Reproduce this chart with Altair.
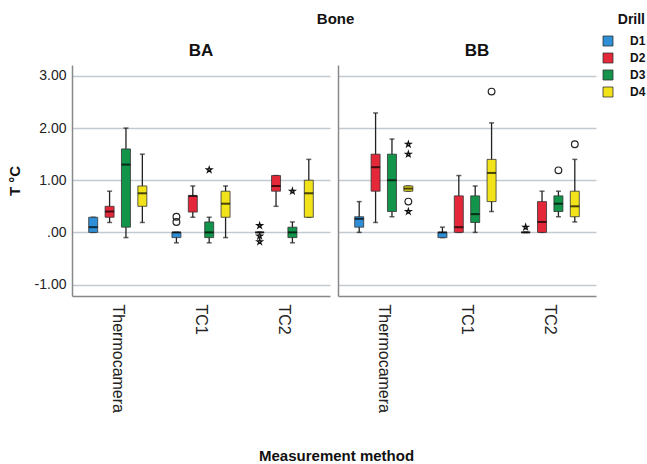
import altair as alt
import pandas as pd

methods = ["Thermocamera", "TC1", "TC2"]
drills = ["D1", "D2", "D3", "D4"]
drill_colors = ["#2e8fd6", "#e4283a", "#12944a", "#f1e21a"]

# Order of each list: Thermocamera D1..D4, TC1 D1..D4, TC2 D1..D4
ba_lo = [0.00, 0.19, -0.10, 0.19, -0.20, 0.29, -0.20, -0.10, 0.00, 0.50, -0.20, 0.29]
ba_q1 = [0.00, 0.29, 0.10, 0.50, -0.10, 0.39, -0.10, 0.29, 0.00, 0.79, -0.10, 0.29]
ba_med = [0.10, 0.40, 1.30, 0.75, 0.00, 0.70, 0.00, 0.55, 0.00, 0.89, 0.00, 0.75]
ba_q3 = [0.29, 0.50, 1.60, 0.89, 0.00, 0.70, 0.20, 0.79, 0.00, 1.09, 0.10, 1.00]
ba_hi = [0.29, 0.79, 2.00, 1.50, 0.00, 0.89, 0.29, 0.89, 0.00, 1.09, 0.20, 1.40]

bb_lo = [0.00, 0.19, 0.30, 0.79, -0.10, 0.00, 0.00, 0.40, 0.00, 0.00, 0.30, 0.20]
bb_q1 = [0.10, 0.79, 0.40, 0.79, -0.10, 0.00, 0.19, 0.59, 0.00, 0.00, 0.40, 0.30]
bb_med = [0.26, 1.25, 1.00, 0.84, 0.00, 0.10, 0.35, 1.14, 0.00, 0.20, 0.55, 0.50]
bb_q3 = [0.30, 1.50, 1.50, 0.89, 0.00, 0.70, 0.70, 1.40, 0.00, 0.59, 0.70, 0.79]
bb_hi = [0.59, 2.29, 1.79, 0.89, 0.10, 1.09, 0.89, 2.10, 0.00, 0.79, 0.79, 1.40]

# Outliers
ba_out_method = ["TC1", "TC1", "TC1", "TC2", "TC2", "TC2", "TC2"]
ba_out_drill = ["D1", "D1", "D3", "D1", "D1", "D1", "D3"]
ba_out_value = [0.30, 0.20, 1.20, 0.13, -0.07, -0.18, 0.79]
ba_out_kind = ["circle", "circle", "star", "star", "star", "star", "star"]

bb_out_method = ["Thermocamera", "Thermocamera", "Thermocamera", "Thermocamera",
                 "TC1", "TC2", "TC2", "TC2"]
bb_out_drill = ["D4", "D4", "D4", "D4", "D4", "D1", "D3", "D4"]
bb_out_value = [1.69, 1.50, 0.59, 0.40, 2.70, 0.10, 1.19, 1.69]
bb_out_kind = ["star", "star", "circle", "star", "circle", "star", "circle", "circle"]

FONT = "Liberation Sans"
STAR = ("M0,-1L0.223,-0.307L0.951,-0.309L0.361,0.117L0.588,0.809L0,0.38"
        "L-0.588,0.809L-0.361,0.117L-0.951,-0.309L-0.223,-0.307Z")


def box_frame(lo, q1, med, q3, hi):
    rows = []
    i = 0
    for m in methods:
        for d in drills:
            rows.append(dict(method=m, drill=d, lo=lo[i], q1=q1[i], med=med[i], q3=q3[i], hi=hi[i]))
            i += 1
    return pd.DataFrame(rows)


def out_frame(ms, ds, vs, ks):
    return pd.DataFrame(dict(method=ms, drill=ds, value=vs, kind=ks))


def panel(title, boxes, outs, first, title_dx):
    xenc = alt.X("method:N", scale=alt.Scale(domain=methods, paddingInner=0, paddingOuter=0.05),
                 axis=alt.Axis(title=None, labelAngle=90, labelFontSize=16, labelFont=FONT,
                               labelColor="#222", ticks=False, labelPadding=8,
                               domainColor="#888", domainWidth=1.5))
    xo = alt.XOffset("drill:N", scale=alt.Scale(domain=drills, paddingOuter=0.54, paddingInner=0))
    yscale = alt.Scale(domain=[-1.22, 3.21], nice=False, zero=False)
    if first:
        yaxis = alt.Axis(title="T °C", values=[-1, 0, 1, 2, 3],
                         labelExpr="datum.value == 0 ? '.00' : replace(format(datum.value, '.2f'), '−', '-')",
                         ticks=False, labelFontSize=14, labelFont=FONT, labelColor="#222",
                         labelPadding=6, titleFontSize=15, titleFont=FONT, titleFontWeight="bold",
                         titleColor="#111", titlePadding=12,
                         grid=True, gridColor="#c3c9d0", gridWidth=1.3,
                         domainColor="#888", domainWidth=1.5)
    else:
        yaxis = alt.Axis(title=None, values=[-1, 0, 1, 2, 3], labels=False, ticks=False,
                         grid=True, gridColor="#c3c9d0", gridWidth=1.3,
                         domainColor="#888", domainWidth=1.5)

    def Y(field):
        return alt.Y(field, type="quantitative", scale=yscale, axis=yaxis)

    base = alt.Chart(boxes)
    whisk = base.mark_rule(color="#222", strokeWidth=1.3).encode(x=xenc, xOffset=xo, y=Y("lo"), y2="hi")
    caps_lo = base.mark_tick(color="#222", size=5, thickness=1.5).encode(x=xenc, xOffset=xo, y=Y("lo"))
    caps_hi = base.mark_tick(color="#222", size=5, thickness=1.5).encode(x=xenc, xOffset=xo, y=Y("hi"))
    bars = base.mark_bar(size=9, stroke="#333", strokeWidth=0.8).encode(
        x=xenc, xOffset=xo, y=Y("q1"), y2="q3",
        color=alt.Color("drill:N", scale=alt.Scale(domain=drills, range=drill_colors),
                        legend=alt.Legend(title="Drill", orient="none", legendX=530, legendY=-52)))
    med = base.mark_tick(color="#000", size=9, thickness=2).encode(x=xenc, xOffset=xo, y=Y("med"))
    ob = alt.Chart(outs)
    circ = ob.transform_filter("datum.kind == 'circle'").mark_point(
        shape="circle", filled=False, color="#222", size=45, strokeWidth=1.2, opacity=1).encode(
        x=xenc, xOffset=xo, y=Y("value"))
    star = ob.transform_filter("datum.kind == 'star'").mark_point(
        shape=STAR, filled=False, color="#111", size=30, strokeWidth=1.3, opacity=1).encode(
        x=xenc, xOffset=xo, y=Y("value"))
    return alt.layer(whisk, caps_lo, caps_hi, bars, med, circ, star).properties(
        width=258, height=231,
        title=alt.TitleParams(title, fontSize=17, font=FONT, fontWeight="bold", color="#111",
                              offset=5, anchor="middle", dx=title_dx))


left = panel("BA", box_frame(ba_lo, ba_q1, ba_med, ba_q3, ba_hi),
             out_frame(ba_out_method, ba_out_drill, ba_out_value, ba_out_kind), True, 0)
right = panel("BB", box_frame(bb_lo, bb_q1, bb_med, bb_q3, bb_hi),
              out_frame(bb_out_method, bb_out_drill, bb_out_value, bb_out_kind), False, 10)

inner = alt.hconcat(left, right, spacing=8).properties(
    title=alt.TitleParams("Bone", fontSize=15, font=FONT, fontWeight="bold", color="#111",
                          offset=15, anchor="middle", dx=34))

chart = alt.vconcat(inner).properties(
    padding={"left": 7, "top": 12, "right": 0, "bottom": 5},
    title=alt.TitleParams("Measurement method", orient="bottom", fontSize=15, font=FONT,
                          fontWeight="bold", color="#111", offset=37, anchor="middle", dx=10)
).configure_view(stroke=None).configure_legend(
    titleFont=FONT, titleFontSize=14, titleFontWeight="bold", titleColor="#111",
    labelFont=FONT, labelFontSize=12, labelFontWeight="bold", labelColor="#111",
    symbolType="square", symbolSize=100, symbolStrokeColor="#333", symbolStrokeWidth=0.8,
    titleAnchor="end", rowPadding=3, labelOffset=16, titlePadding=8
).configure_concat(spacing=0)

chart.save("out.html", embed_options={"renderer": "svg", "actions": False})
